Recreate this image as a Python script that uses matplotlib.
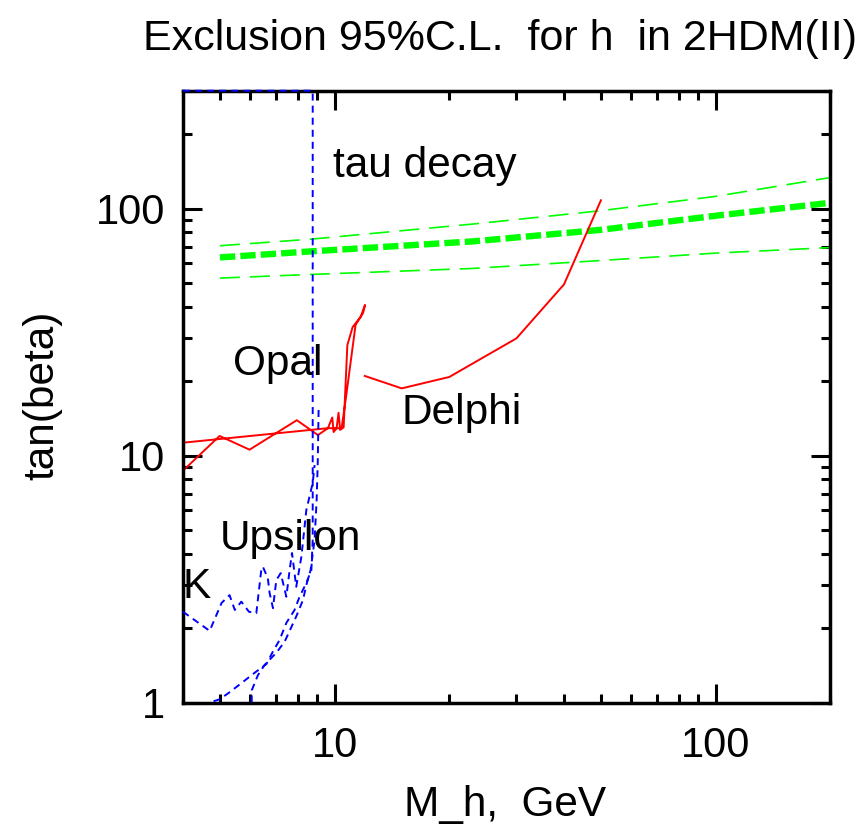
import matplotlib
matplotlib.use("Agg")
import matplotlib.pyplot as plt
from matplotlib.ticker import LogLocator, NullFormatter, FixedLocator, FixedFormatter

plt.rcParams['font.family'] = ['Liberation Sans', 'DejaVu Sans']

# green band (tau decay) - centre and two side lines
green_x = [5, 8.7, 23, 50, 100, 200]
green_mid = [63.4, 67.1, 73.6, 82, 93.5, 105.5]
green_hi = [70.7, 75.2, 86.5, 98, 112, 133.5]
green_lo = [52.3, 54.1, 57.2, 61.6, 66, 69.5]

# Opal contour
opal_x = [4.0, 4.99, 5.98, 7.96, 9.04, 9.60, 9.86, 9.94, 10.12, 10.24, 10.34, 10.56,
          10.8, 11.15, 11.7, 12.02, 11.88, 11.35, 10.69, 10.43, 9.59, 4.0]
opal_y = [8.68, 12.0, 10.56, 13.9, 12.1, 12.9, 14.25, 12.45, 12.9, 14.9, 12.7, 13.0,
          28.0, 33.1, 36.4, 40.7, 37.8, 33.8, 16.8, 12.9, 12.9, 11.27]

# Delphi
delphi_x = [12, 15, 20, 30, 40, 50]
delphi_y = [21, 18.7, 20.8, 29.8, 49.3, 108]

# tau decay boundary (blue)
tau_x = [4.0, 8.76, 8.76, 8.69, 8.43, 8.09, 7.85, 7.47, 7.17, 6.89, 6.62, 6.17,
         5.74, 5.30, 4.99, 4.70]
tau_y = [300, 300, 4.55, 3.44, 3.05, 2.68, 2.37, 2.10, 1.79, 1.61, 1.43, 1.32,
         1.21, 1.10, 1.03, 1.0]

# Upsilon smooth curve
ups_x = [6.06, 6.06, 6.29, 6.55, 7.03, 7.39, 7.93, 8.26, 8.43, 8.65, 8.86, 8.97, 9.03, 9.08]
ups_y = [1.0, 1.12, 1.29, 1.42, 1.59, 1.76, 2.23, 2.60, 2.99, 3.44, 4.55, 6.60, 9.32, 15.7]

# K / Upsilon wiggly curve
wig_x = [4.0, 4.70, 5.05, 5.30, 5.47, 5.69, 5.96, 6.23, 6.42, 6.48, 6.68, 6.75, 6.89,
         7.03, 7.22, 7.47, 7.62, 7.73, 7.93, 8.18, 8.43, 8.76, 8.86]
wig_y = [2.33, 1.95, 2.53, 2.72, 2.37, 2.56, 2.33, 2.30, 3.44, 3.55, 3.18, 2.78, 2.41,
         3.13, 3.34, 2.68, 3.44, 4.03, 2.94, 3.89, 6.02, 7.74, 9.15]

fig = plt.figure(figsize=(8.58, 8.27), dpi=100)
ax = fig.add_axes([183 / 858, 1 - 702.5 / 827, 647.3 / 858, 611.8 / 827])
ax.set_xscale('log')
ax.set_yscale('log')
ax.set_xlim(4, 200)
ax.set_ylim(1, 300)

# green lines
ax.plot(green_x, green_hi, color='#00ff00', lw=1.2, dashes=(12, 6))
ax.plot(green_x, green_lo, color='#00ff00', lw=1.2, dashes=(12, 6))
ax.plot(green_x, green_mid, color='#00ff00', lw=4.6, dashes=(2.4, 0.8))

# red lines
ax.plot(opal_x, opal_y, color='#ff0000', lw=1.4)
ax.plot(delphi_x, delphi_y, color='#ff0000', lw=1.4)

# blue dashed
bl = dict(color='#0000ff', lw=1.4, dashes=(3.6, 2.6), zorder=3, clip_on=False)
ax.plot(tau_x, tau_y, **bl)
ax.plot(ups_x, ups_y, **bl)
ax.plot(wig_x, wig_y, **bl)

# labels in plot
fs = 30.5
ax.text(9.88, 134, 'tau decay', fontsize=fs, ha='left', va='baseline')
ax.text(5.40, 21.2, 'Opal', fontsize=fs, ha='left', va='baseline')
ax.text(15.0, 13.4, 'Delphi', fontsize=fs, ha='left', va='baseline')
ax.text(4.99, 4.14, 'Upsilon', fontsize=fs, ha='left', va='baseline')
ax.text(4.0, 2.65, 'K', fontsize=fs, ha='left', va='baseline')

# ticks
ax.xaxis.set_major_locator(FixedLocator([10, 100]))
ax.xaxis.set_major_formatter(FixedFormatter(['10', '100']))
ax.xaxis.set_minor_locator(LogLocator(base=10, subs=range(2, 10)))
ax.xaxis.set_minor_formatter(NullFormatter())
ax.yaxis.set_major_locator(FixedLocator([1, 10, 100]))
ax.yaxis.set_major_formatter(FixedFormatter(['1', '10', '100']))
ax.yaxis.set_minor_locator(LogLocator(base=10, subs=range(2, 10)))
ax.yaxis.set_minor_formatter(NullFormatter())

ax.tick_params(which='both', direction='in', top=True, right=True, width=2.2)
ax.tick_params(which='major', length=13.7, labelsize=30)
ax.tick_params(which='minor', length=6.8)
ax.tick_params(axis='x', which='major', pad=17)
ax.tick_params(axis='y', which='major', pad=13)
for s in ax.spines.values():
    s.set_linewidth(2.5)

fig.text(143 / 858, 1 - 50 / 827, 'Exclusion 95%C.L.  for h  in 2HDM(II)',
         fontsize=31, ha='left', va='baseline')
fig.text(505 / 858, 1 - 816 / 827, 'M_h,  GeV', fontsize=30.5, ha='center', va='baseline')
fig.text(42 / 858, 1 - 395 / 827, 'tan(beta)', fontsize=30.5, rotation=90,
         ha='center', va='center')

fig.savefig('out.png', dpi=100)
